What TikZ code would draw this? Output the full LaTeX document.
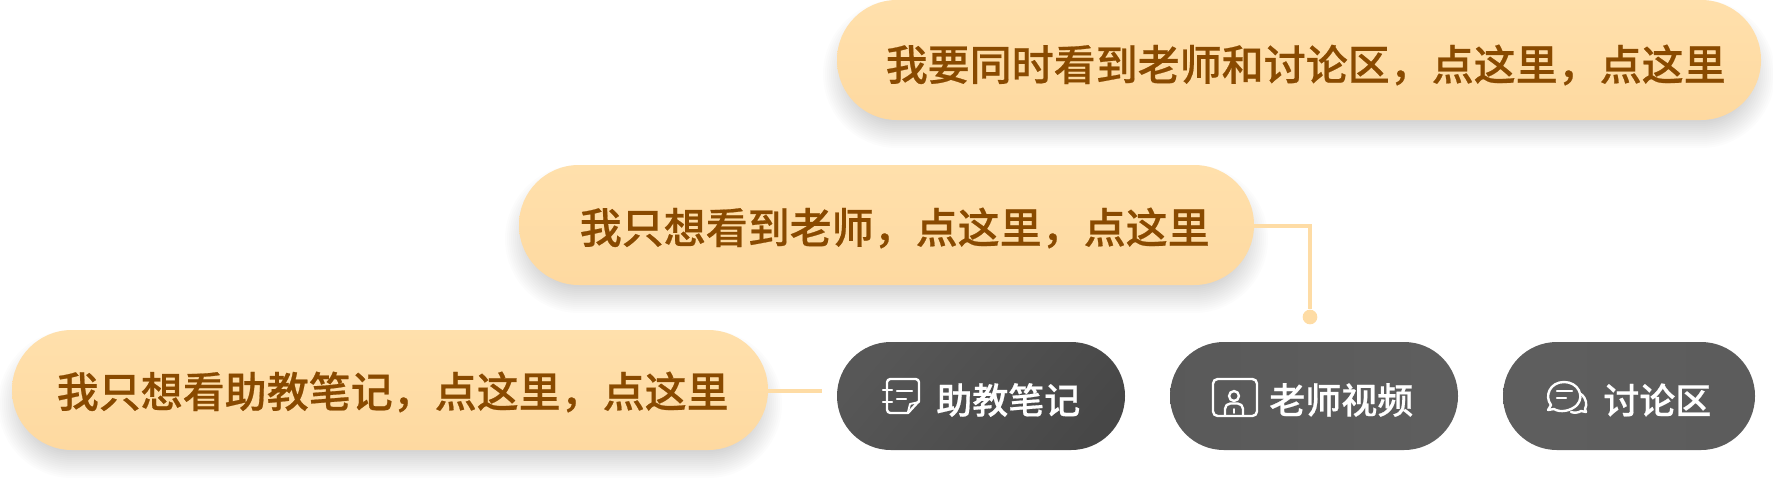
\documentclass[tikz,border=0pt]{standalone}
\usepackage{fontspec}
\newfontfamily\cjk{Noto Sans CJK SC}[BoldFont={* Medium},BoldFeatures={FakeBold=0.5}]
\usetikzlibrary{positioning,calc}
\definecolor{tipTop}{RGB}{255,224,172}
\definecolor{tipBottom}{RGB}{254,217,160}
\definecolor{tipText}{RGB}{137,74,0}
\definecolor{leaderCol}{RGB}{254,220,165}
\tikzset{tippanel/.style={
  x=0.75pt, y=-0.75pt,
  tip/.style={rounded corners=44.9pt, draw=none, inner sep=0pt, minimum height=90pt, top color=tipTop, bottom color=tipBottom},
  tiplab/.style={anchor=east, inner sep=0pt, text=tipText, font=\cjk\bfseries\fontsize{31.5}{32}\selectfont},
  tab/.style={rounded corners=40.4pt, draw=none, inner sep=0pt, minimum height=81pt, shading=axis},
  tablab/.style={anchor=west, inner sep=0pt, text=white, font=\cjk\bfseries\fontsize{27}{28}\selectfont},
  leader/.style={draw=leaderCol, line width=2.4pt},
  tipdot/.style={circle, fill=leaderCol, draw=none, minimum size=11pt, inner sep=0pt},
  glyph/.style={draw=white, line width=1.8pt, line cap=round, line join=round},
}}
% soft shadow under a pill: left, top, right, bottom
\newcommand{\softshadow}[4]{%
  \foreach \d in {-14,-12,...,14} {
    \pgfmathsetmacro{\rad}{(60-\d)*0.75}
    \fill[black, opacity=0.0105, rounded corners=\rad pt] (#1+\d,#2+14+\d) rectangle (#3-\d,#4+14-\d);
  }%
}

\begin{document}
\begin{tikzpicture}[tippanel]
\useasboundingbox (0,0) rectangle (1773,486);
% =====================================================================
%  shadows, then the three tips
% =====================================================================
\softshadow{837}{0}{1761}{120}
\softshadow{519}{165}{1254}{285}
\softshadow{12}{330}{768}{450}

\node[tip, minimum width=693pt]   (tipAll)   at (1299,60)  {};
\node[tip, minimum width=551.25pt] (tipVideo) at (886.5,225) {};
\node[tip, minimum width=567pt]   (tipNotes) at (390,390)  {};

\node[tiplab] (labAll)   at (1726,65)  {我要同时看到老师和讨论区，点这里，点这里};
\node[tiplab] (labVideo) at (1210,228) {我只想看到老师，点这里，点这里};
\node[tiplab] (labNotes) at (729,392)  {我只想看助教笔记，点这里，点这里};

% =====================================================================
%  the three tabs
% =====================================================================
\node[tab, minimum width=216pt, left color=black!66, right color=black!72, shading angle=50] (tabNotes) at (981,396) {};
\node[tab, minimum width=216pt, left color=black!65, middle color=black!60, right color=black!63] (tabVideo) at (1314,396) {};
\node[tab, minimum width=189pt, left color=black!63, middle color=black!60, right color=black!64] (tabTalk) at (1629,396) {};

\node[tablab] (labTabNotes) at (936,400)  {助教笔记};
\node[tablab] (labTabVideo) at (1269,400) {老师视频};
\node[tablab] (labTabTalk)  at (1603,400) {讨论区};

% leaders
\coordinate (notesEnd) at (822,391);
\node[tipdot] (videoDot) at (1310,317) {};
\draw[leader] (tipNotes.east) ++(0,1) -- (notesEnd);
\draw[leader] (tipVideo.east) ++(0,1) -| (videoDot);

% icon: note
\draw[glyph] (919,401) [rounded corners=2.5pt] -- (919,379) -- (887,379) -- (887,413) [sharp corners] -- (908,413) -- cycle;
\draw[glyph, line width=1.4pt] (919,402) -- (910,404) -- (908,412);
\draw[glyph] (883,390) -- (892,390) (883,402) -- (892,402);
\draw[glyph] (897,391) -- (912,391) (897,399) -- (906,399);
% icon: person
\draw[glyph, rounded corners=3.5pt] (1213,379) rectangle (1257,416);
\draw[glyph] (1234,396) circle (3.7pt);
\draw[glyph] (1225,415) [rounded corners=4pt] -- (1225,403.5) -- (1243,403.5) [sharp corners] -- (1243,415);
\draw[glyph, line width=1.2pt] (1234,409) -- (1234,413);
% icon: speech
\draw[glyph] (1551,405) .. controls (1544,396) and (1550,382) .. (1564,382)
  .. controls (1578,382) and (1585,396) .. (1577,405) .. controls (1571,411) and (1560,413) .. (1554,409) -- (1548,410) -- cycle;
\draw[glyph] (1581,394) .. controls (1587,399) and (1587,405) .. (1585,409) -- (1586,412) -- (1581,411) .. controls (1578,413) and (1574,413) .. (1571,412);
\draw[glyph] (1557,391) -- (1572,391) (1557,398) -- (1566,398);
\end{tikzpicture}
\end{document}
